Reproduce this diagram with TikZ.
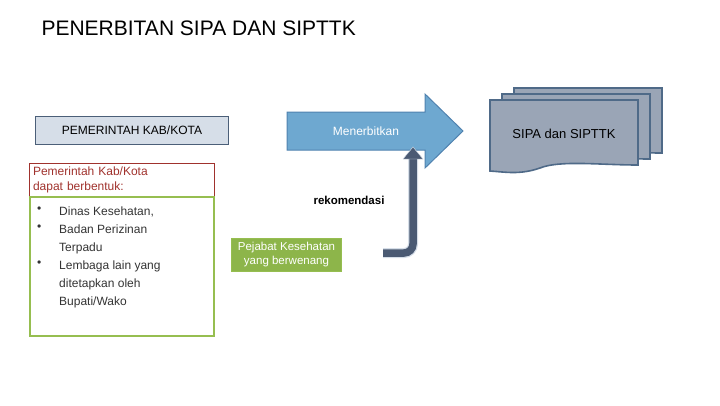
\documentclass[tikz,border=0pt]{standalone}
\usepackage{fontspec}
\setmainfont{Liberation Sans}
\definecolor{arrowblue}{RGB}{110,168,208}
\definecolor{arrowedge}{RGB}{80,130,175}
\definecolor{pagefill}{RGB}{154,165,182}
\definecolor{pageedge}{RGB}{79,106,136}
\definecolor{govfill}{RGB}{214,222,232}
\definecolor{govedge}{RGB}{75,95,120}
\definecolor{officerfill}{RGB}{141,181,74}
\definecolor{listedge}{RGB}{150,190,80}
\definecolor{headred}{RGB}{160,50,45}
\definecolor{bentarrow}{RGB}{75,90,115}
\begin{document}
\begin{tikzpicture}[x=1pt,y=-1pt]
	\tikzset{
		docpage/.style={draw=pageedge, line width=1.6pt, fill=pagefill},
		govbox/.style={draw=govedge, line width=1pt, fill=govfill, font=\fontsize{12}{14}\selectfont},
		bullet/.style={anchor=north west, inner sep=0pt, align=left, font=\fontsize{12}{18}\selectfont, text=black!80}
	}
	\useasboundingbox (0,0) rectangle (720,405);
	\node (title) at (38,28) [anchor=west, font=\fontsize{21}{24}\selectfont] {PENERBITAN SIPA DAN SIPTTK};
	\node (gov) at (132,130) [govbox, minimum width=193pt, minimum height=28pt] {PEMERINTAH KAB/KOTA};
	\node (formhead) at (122,180) [draw=headred, line width=1pt, minimum width=184pt, minimum height=34pt, text width=178pt, align=left, text=headred, font=\fontsize{12}{14.5}\selectfont] {Pemerintah Kab/Kota\\dapat berbentuk:};
	\node (formlist) at (122,266.5) [draw=listedge, line width=1.5pt, minimum width=184pt, minimum height=139pt] {};
	\node (marks) at (37,207) [bullet] {\textbullet\\\textbullet\\\\\textbullet};
	\node (items) at (59,207) [bullet] {Dinas Kesehatan,\\Badan Perizinan\\Terpadu\\Lembaga lain yang\\ditetapkan oleh\\Bupati/Wako};
	% big arrow
	\draw[draw=arrowedge, line width=1pt, fill=arrowblue] (287,112) -- (425,112) -- (425,94) -- (463,131) -- (425,168) -- (425,150) -- (287,150) -- cycle;
	\node (issue) at (366,131) [text=white, font=\fontsize{12}{14}\selectfont] {Menerbitkan};
	% documents
	\foreach \dx/\dy in {24/-12, 12/-6, 0/0}
		\draw[docpage] (490+\dx,100+\dy) -- (638+\dx,100+\dy) -- (638+\dx,165+\dy) .. controls (600+\dx,165+\dy) and (560+\dx,160+\dy) .. (540+\dx,168+\dy) .. controls (520+\dx,175+\dy) and (505+\dx,172+\dy) .. (490+\dx,171+\dy) -- cycle;
	\node (doc) at (564,134) [font=\fontsize{13}{15}\selectfont] {SIPA dan SIPTTK};
	% green box
	\node (officer) at (286.5,254.5) [fill=officerfill, draw=listedge, minimum width=110pt, minimum height=33pt, align=center, text=white, font=\fontsize{11.5}{13.5}\selectfont] {Pejabat Kesehatan\\yang berwenang};
	\coordinate (recfrom) at (383,253);
	\coordinate (recto) at (413,147);
	\draw[line width=10pt, govfill] (recfrom) -- (404,253) to[out=0,in=-90] (413,244) -- ([yshift=-10pt]recto);
	\draw[line width=7.5pt, bentarrow] (recfrom) -- (404,253) to[out=0,in=-90] (413,244) -- ([yshift=-10pt]recto);
	\fill[bentarrow, draw=govfill] ([yshift=-12pt,xshift=-10pt]recto) -- (recto) -- ([yshift=-12pt,xshift=10pt]recto) -- cycle;
	\node (rec) at (349,200) [font=\bfseries\fontsize{11.5}{13}\selectfont] {rekomendasi};
\end{tikzpicture}
\end{document}
